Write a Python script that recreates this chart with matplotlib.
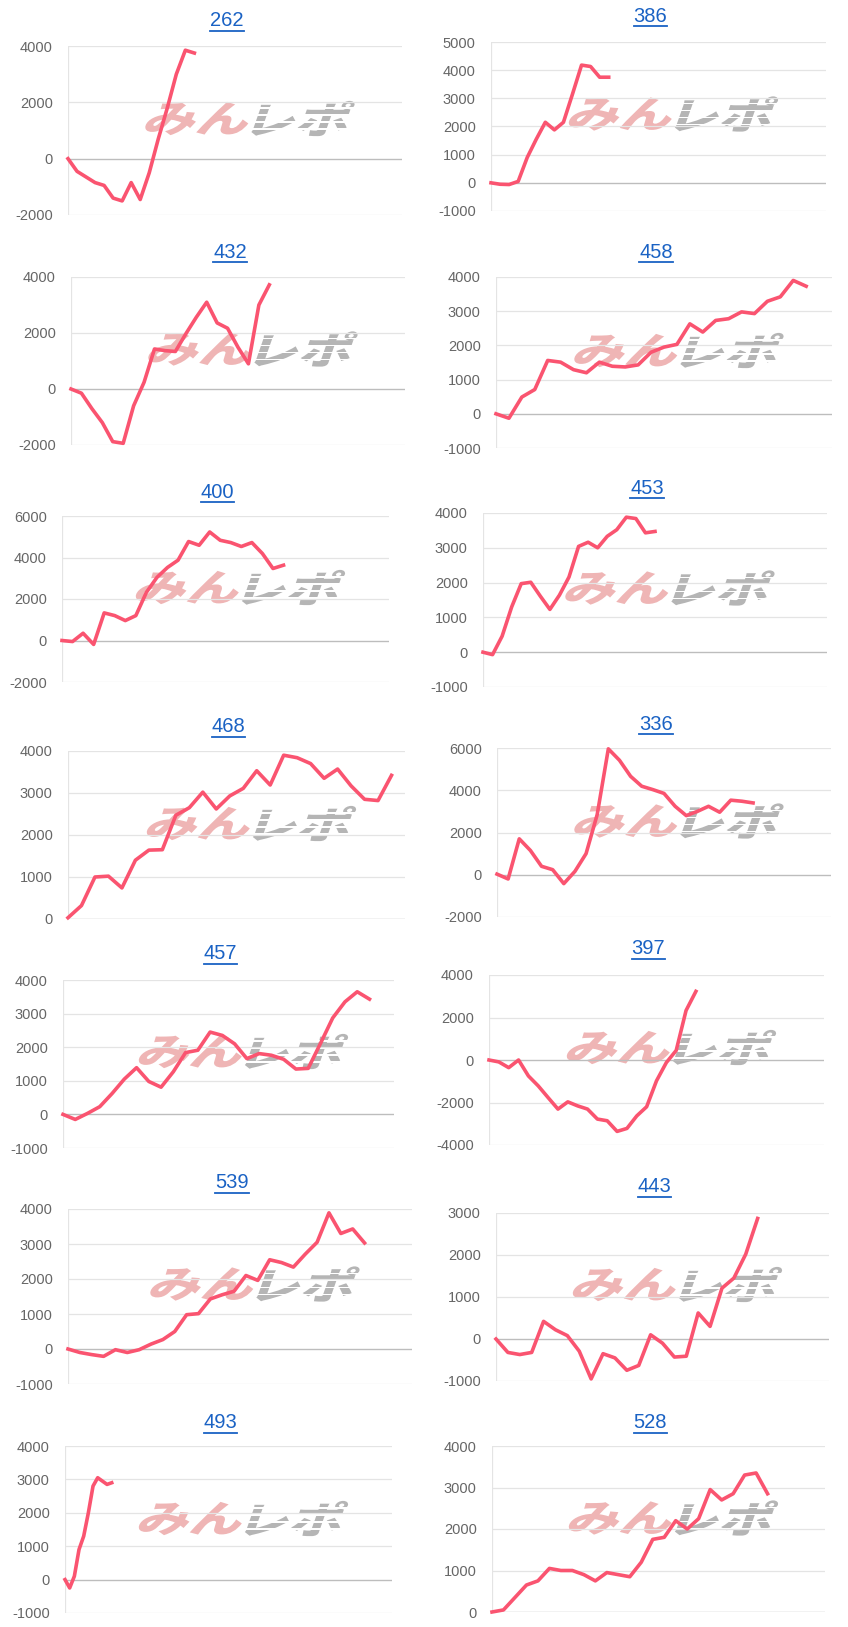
import matplotlib
matplotlib.use("Agg")
import matplotlib.pyplot as plt
from matplotlib.textpath import TextPath
from matplotlib.font_manager import FontProperties
from matplotlib.patches import PathPatch, Rectangle
from matplotlib.transforms import Affine2D, IdentityTransform
from matplotlib.lines import Line2D

# ---------------- data ----------------
names = ["262", "386", "432", "458", "400", "453", "468", "336", "457", "397", "539", "443", "493", "528"]

v262 = [0, -450, -650, -850, -950, -1400, -1500, -850, -1450, -500, 700, 1800, 3000, 3850, 3750]
v386 = [0, -50, -60, 50, 900, 1550, 2150, 1880, 2150, 3150, 4180, 4130, 3750, 3750]
v432 = [0, -150, -700, -1200, -1880, -1940, -600, 240, 1430, 1370, 1340, 1970, 2560, 3100, 2360, 2170,
        1490, 900, 3000, 3720]
v458 = [0, -130, 490, 710, 1560, 1510, 1290, 1200, 1510, 1390, 1370, 1430, 1800, 1950, 2030, 2630, 2390,
        2730, 2780, 2980, 2930, 3290, 3420, 3900, 3730]
v400 = [0, -50, 350, -190, 1330, 1200, 960, 1200, 2320, 3040, 3520, 3870, 4770, 4590, 5230, 4830, 4720,
        4530, 4720, 4190, 3470, 3630]
v453 = [0, -70, 460, 1300, 1970, 2010, 1610, 1230, 1640, 2160, 3040, 3160, 3000, 3330, 3520, 3880, 3840,
        3430, 3470]
v468 = [30, 320, 1000, 1020, 740, 1400, 1640, 1650, 2470, 2650, 3020, 2620, 2930, 3110, 3530, 3190, 3900,
        3840, 3700, 3350, 3570, 3170, 2850, 2820, 3420]
v336 = [30, -200, 1700, 1150, 400, 240, -420, 160, 1000, 2850, 5960, 5420, 4660, 4190, 4030, 3850, 3240,
        2800, 3000, 3240, 2960, 3530, 3480, 3400]
v457 = [0, -150, 30, 230, 620, 1050, 1390, 980, 810, 1270, 1840, 1910, 2450, 2350, 2100, 1660, 1810, 1760,
        1640, 1350, 1370, 2110, 2870, 3350, 3650, 3430]
v397 = [0, -90, -360, 0, -750, -1220, -1770, -2310, -1970, -2160, -2310, -2780, -2860, -3360, -3220, -2630,
        -2200, -980, -120, 450, 2330, 3230]
v539 = [0, -100, -160, -210, -20, -100, -20, 140, 270, 500, 980, 1010, 1430, 1550, 1650, 2100, 1960, 2550,
        2470, 2340, 2710, 3050, 3890, 3300, 3430, 3030]
v443 = [0, -320, -370, -320, 420, 220, 80, -290, -950, -350, -450, -745, -630, 100, -100, -430, -410, 620,
        300, 1210, 1450, 2020, 2870]
v493 = [0, -250, 100, 900, 1300, 2000, 2800, 3050, 2950, 2850, 2900]
v528 = [0, 50, 350, 650, 750, 1050, 1000, 1000, 900, 750, 950, 900, 850, 1200, 1750, 1800, 2200, 2000,
        2250, 2950, 2700, 2850, 3300, 3350, 2850]

series = [v262, v386, v432, v458, v400, v453, v468, v336, v457, v397, v539, v443, v493, v528]
x_slots = [37, 37, 32, 26, 31, 36, 25, 30, 27, 34, 29, 28, 70, 29]
y_ranges = [(-2000, 4000, 2000), (-1000, 5000, 1000), (-2000, 4000, 2000), (-1000, 4000, 1000),
            (-2000, 6000, 2000), (-1000, 4000, 1000), (0, 4000, 1000), (-2000, 6000, 2000),
            (-1000, 4000, 1000), (-4000, 4000, 2000), (-1000, 4000, 1000), (-1000, 3000, 1000),
            (-1000, 4000, 1000), (0, 4000, 1000)]

# ---------------- layout (pixels: left, right, top, bottom, title_y) ----------------
W, H = 848, 1627
boxes = [
    (68, 402, 46, 215, 22), (491, 826, 42, 211, 17),
    (71, 405, 277, 445, 253), (496, 832, 277, 448, 253),
    (62, 389, 516, 682, 493), (483, 827, 513, 687, 489),
    (68, 405, 751, 919, 728), (497, 831, 748, 917, 725),
    (63, 394, 980, 1148, 955), (489, 824, 975, 1145, 950),
    (68, 412, 1209, 1384, 1184), (496, 829, 1213, 1381, 1188),
    (65, 392, 1446, 1613, 1424), (492, 825, 1446, 1612, 1424),
]

LINE = "#fa5470"
BLUE = "#1a62c4"
TICK = "#666666"
GRID = "#e4e4e4"
ZERO = "#bdbdbd"
WM_PINK = "#efb5b5"
WM_GRAY = "#b5b5b5"

plt.rcParams['font.family'] = ['Liberation Sans', 'DejaVu Sans']

fig = plt.figure(figsize=(W / 100, H / 100), dpi=100)
fig.patch.set_facecolor("white")

fp_wm = FontProperties(family='Noto Sans CJK JP', weight='black')


def add_watermark(ax, cx, cy):
    size = 48
    p1 = TextPath((0, 0), "みん", size=size, prop=fp_wm)
    p2 = TextPath((0, 0), "レポ", size=size, prop=fp_wm)
    b1 = p1.get_extents()
    b2 = p2.get_extents()
    sx, sy = 1.1, 0.78
    gap = 6
    total = (b1.width + b2.width) * sx + gap
    x0 = cx - total / 2
    ymid = H - cy
    t1 = Affine2D().translate(-b1.x0, -b1.y0 - b1.height / 2).skew_deg(14, 0).scale(sx, sy).translate(x0, ymid)
    x2 = x0 + b1.width * sx + gap
    t2 = Affine2D().translate(-b2.x0, -b2.y0 - b2.height / 2).skew_deg(14, 0).scale(sx, sy).translate(x2, ymid)
    ax.add_artist(PathPatch(p1, facecolor=WM_PINK, edgecolor="none", transform=t1, zorder=0.5, clip_on=False))
    ax.add_artist(PathPatch(p2, facecolor=WM_GRAY, edgecolor="none", transform=t2, zorder=0.5, clip_on=False))
    # speed stripes over the gray part
    hh = b2.height * sy
    for k in range(1, 5):
        yy = ymid - hh / 2 + k * hh / 5
        ax.add_artist(Rectangle((x2 - 8, yy - 0.9), b2.width * sx + 20, 1.8, facecolor="white",
                                edgecolor="none", transform=IdentityTransform(), zorder=0.6, clip_on=False))


titles = []
for name, vals, ns, (ymin, ymax, step), (l, r, t, b, ty) in zip(names, series, x_slots, y_ranges, boxes):
    ax = fig.add_axes([l / W, 1 - b / H, (r - l) / W, (b - t) / H])
    ax.set_facecolor("none")
    ax.plot(range(len(vals)), vals, color=LINE, lw=2.6, zorder=3, clip_on=False)
    ax.set_xlim(0, ns)
    ax.set_ylim(ymin, ymax)
    ticks = list(range(ymin, ymax + 1, step))
    ax.set_yticks(ticks)
    ax.set_yticklabels([str(v) for v in ticks])
    ax.set_xticks([])
    for tv in ticks:
        ax.axhline(tv, color=ZERO if tv == 0 else GRID, lw=1.0 if tv == 0 else 0.9, zorder=1)
    ax.axvline(0, color=GRID, lw=0.9, zorder=1)
    for s in ax.spines.values():
        s.set_visible(False)
    ax.tick_params(axis='y', length=0, pad=11, labelsize=10.5, labelcolor=TICK)
    add_watermark(ax, (l + r) / 2 + 14, (ty + b) / 2)
    cx = (l + r) / 2 - 8
    txt = fig.text(cx / W, 1 - (ty - 1) / H, name, ha='center', va='center', color=BLUE, fontsize=14.5)
    titles.append(txt)

fig.canvas.draw()
renderer = fig.canvas.get_renderer()
for txt in titles:
    bb = txt.get_window_extent(renderer)
    yline = bb.y0 - 0.5
    fig.add_artist(Line2D([bb.x0 / W, bb.x1 / W], [yline / H, yline / H], color=BLUE, lw=1.3,
                          transform=fig.transFigure))

fig.savefig("out.png", dpi=100, facecolor="white")
